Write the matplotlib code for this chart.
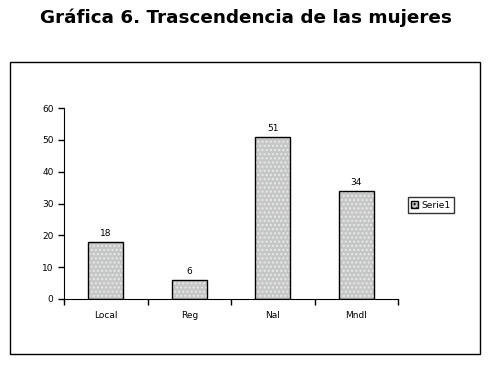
import numpy as np
import matplotlib
matplotlib.use('Agg')
from matplotlib import pyplot as plt
from matplotlib.patches import Rectangle, Patch

categories = ['Local', 'Reg', 'Nal', 'Mndl']
values = [18, 6, 51, 34]
series_name = 'Serie1'
yticks = [0, 10, 20, 30, 40, 50, 60]

fig = plt.figure(figsize=(4.88, 3.65), dpi=100)
fig.text(246/488, 1 - 18/365, 'Gráfica 6. Trascendencia de las mujeres',
         ha='center', va='center', fontsize=13.2, fontweight='bold')

# outer chart frame
fig.patches.append(Rectangle((10/488, 1 - 354/365), 470/488, 292/365,
                             transform=fig.transFigure, fill=False,
                             edgecolor='black', linewidth=1))

ax = fig.add_axes([64/488, 1 - 299/365, 334/488, 191/365])
x = np.arange(len(categories))
# dotted grey fill, then black outline
ax.bar(x, values, width=0.42, color='#c6c6c6', edgecolor='#e6ece6',
       hatch='....', linewidth=0)
ax.bar(x, values, width=0.42, fill=False, edgecolor='black', linewidth=1)
for xi, v in zip(x, values):
    ax.text(xi, v + 1.2, str(v), ha='center', va='bottom', fontsize=6.5)

ax.set_xlim(-0.5, len(categories) - 0.5)
ax.set_ylim(0, 60)
ax.set_yticks(yticks)
ax.set_xticks(x)
ax.set_xticklabels(categories)
ax.set_xticks(np.arange(len(categories) + 1) - 0.5, minor=True)
ax.tick_params(axis='x', which='major', length=0, labelsize=6.5, pad=9)
ax.tick_params(axis='x', which='minor', length=4, width=1, direction='out')
ax.tick_params(axis='y', length=4, width=1, labelsize=6.5, direction='out')
ax.spines['top'].set_visible(False)
ax.spines['right'].set_visible(False)

leg = fig.legend(handles=[Patch(facecolor='#c6c6c6', edgecolor='black',
                                hatch='....', label=series_name)],
                 loc='center', bbox_to_anchor=(431/488, 1 - 205/365),
                 fontsize=6.5, frameon=True, fancybox=False,
                 handlelength=0.8, handleheight=0.8, handletextpad=0.4,
                 borderpad=0.35, borderaxespad=0)
leg.get_frame().set_edgecolor('black')
leg.get_frame().set_linewidth(1)

fig.savefig('out.png', dpi=100)
